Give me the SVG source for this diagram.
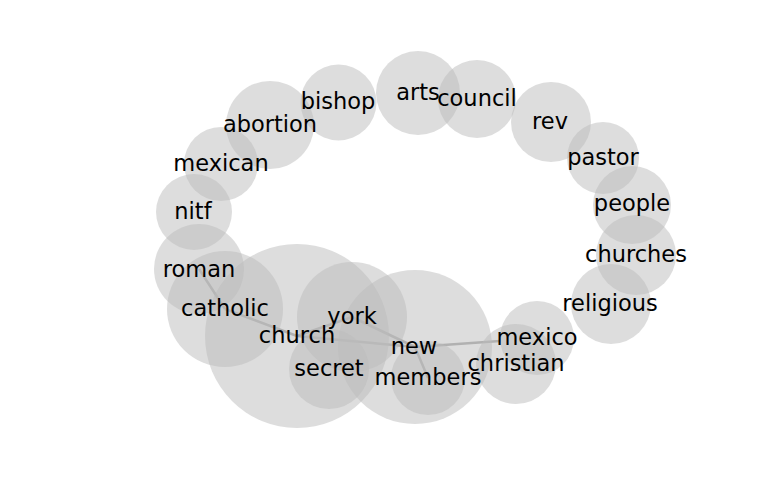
<svg xmlns="http://www.w3.org/2000/svg" width="768" height="500" viewBox="0 0 768 500">
<style>
.n circle{fill:#bbbbbb;fill-opacity:0.5}
.n text{font-family:"DejaVu Sans",sans-serif;font-size:22.5px;fill:#000;text-anchor:middle;dominant-baseline:central}
.e line{stroke:#888888;stroke-width:2.5;stroke-opacity:0.75}
</style>
<rect width="768" height="500" fill="#fff"/>
<g id="edges" class="e">
<line x1="199" y1="269" x2="225" y2="309"/>
<line x1="225" y1="309" x2="297" y2="336"/>
<line x1="297" y1="336" x2="352" y2="317"/>
<line x1="297" y1="336" x2="415" y2="347"/>
<line x1="352" y1="317" x2="415" y2="347"/>
<line x1="415" y1="347" x2="428" y2="378"/>
<line x1="415" y1="347" x2="500" y2="341"/>
</g>
<g id="node-church" class="n"><circle cx="297" cy="336" r="92"/></g>
<g id="node-new" class="n"><circle cx="415" cy="347" r="77"/></g>
<g id="node-catholic" class="n"><circle cx="225" cy="309" r="58"/></g>
<g id="node-york" class="n"><circle cx="352" cy="317" r="55"/></g>
<g id="node-roman" class="n"><circle cx="199" cy="269" r="45"/></g>
<g id="node-secret" class="n"><circle cx="329" cy="369" r="40"/></g>
<g id="node-members" class="n"><circle cx="428" cy="378" r="37"/></g>
<g id="node-mexico" class="n"><circle cx="537" cy="338" r="37"/></g>
<g id="node-christian" class="n"><circle cx="516" cy="364" r="40"/></g>
<g id="node-religious" class="n"><circle cx="611" cy="304" r="40"/></g>
<g id="node-churches" class="n"><circle cx="636" cy="255" r="40"/></g>
<g id="node-people" class="n"><circle cx="632" cy="205" r="39"/></g>
<g id="node-pastor" class="n"><circle cx="603" cy="158" r="36"/></g>
<g id="node-rev" class="n"><circle cx="551" cy="122" r="40"/></g>
<g id="node-council" class="n"><circle cx="477" cy="99" r="39"/></g>
<g id="node-arts" class="n"><circle cx="418" cy="93" r="42"/></g>
<g id="node-bishop" class="n"><circle cx="338.5" cy="102.5" r="38"/></g>
<g id="node-abortion" class="n"><circle cx="270" cy="125" r="44"/></g>
<g id="node-mexican" class="n"><circle cx="221" cy="164" r="37"/></g>
<g id="node-nitf" class="n"><circle cx="194" cy="212" r="38"/></g>
<g id="labels" class="n">
<text x="199" y="269">roman</text>
<text x="225" y="308">catholic</text>
<text x="297" y="335">church</text>
<text x="352" y="316">york</text>
<text x="329" y="368">secret</text>
<text x="414" y="346">new</text>
<text x="428" y="377">members</text>
<text x="537" y="337">mexico</text>
<text x="516" y="363">christian</text>
<text x="610" y="303">religious</text>
<text x="636" y="254">churches</text>
<text x="632" y="203">people</text>
<text x="603" y="157">pastor</text>
<text x="550" y="121">rev</text>
<text x="477" y="98">council</text>
<text x="418" y="92">arts</text>
<text x="338" y="101">bishop</text>
<text x="270" y="124">abortion</text>
<text x="221" y="163">mexican</text>
<text x="193" y="211">nitf</text>
</g>
</svg>
